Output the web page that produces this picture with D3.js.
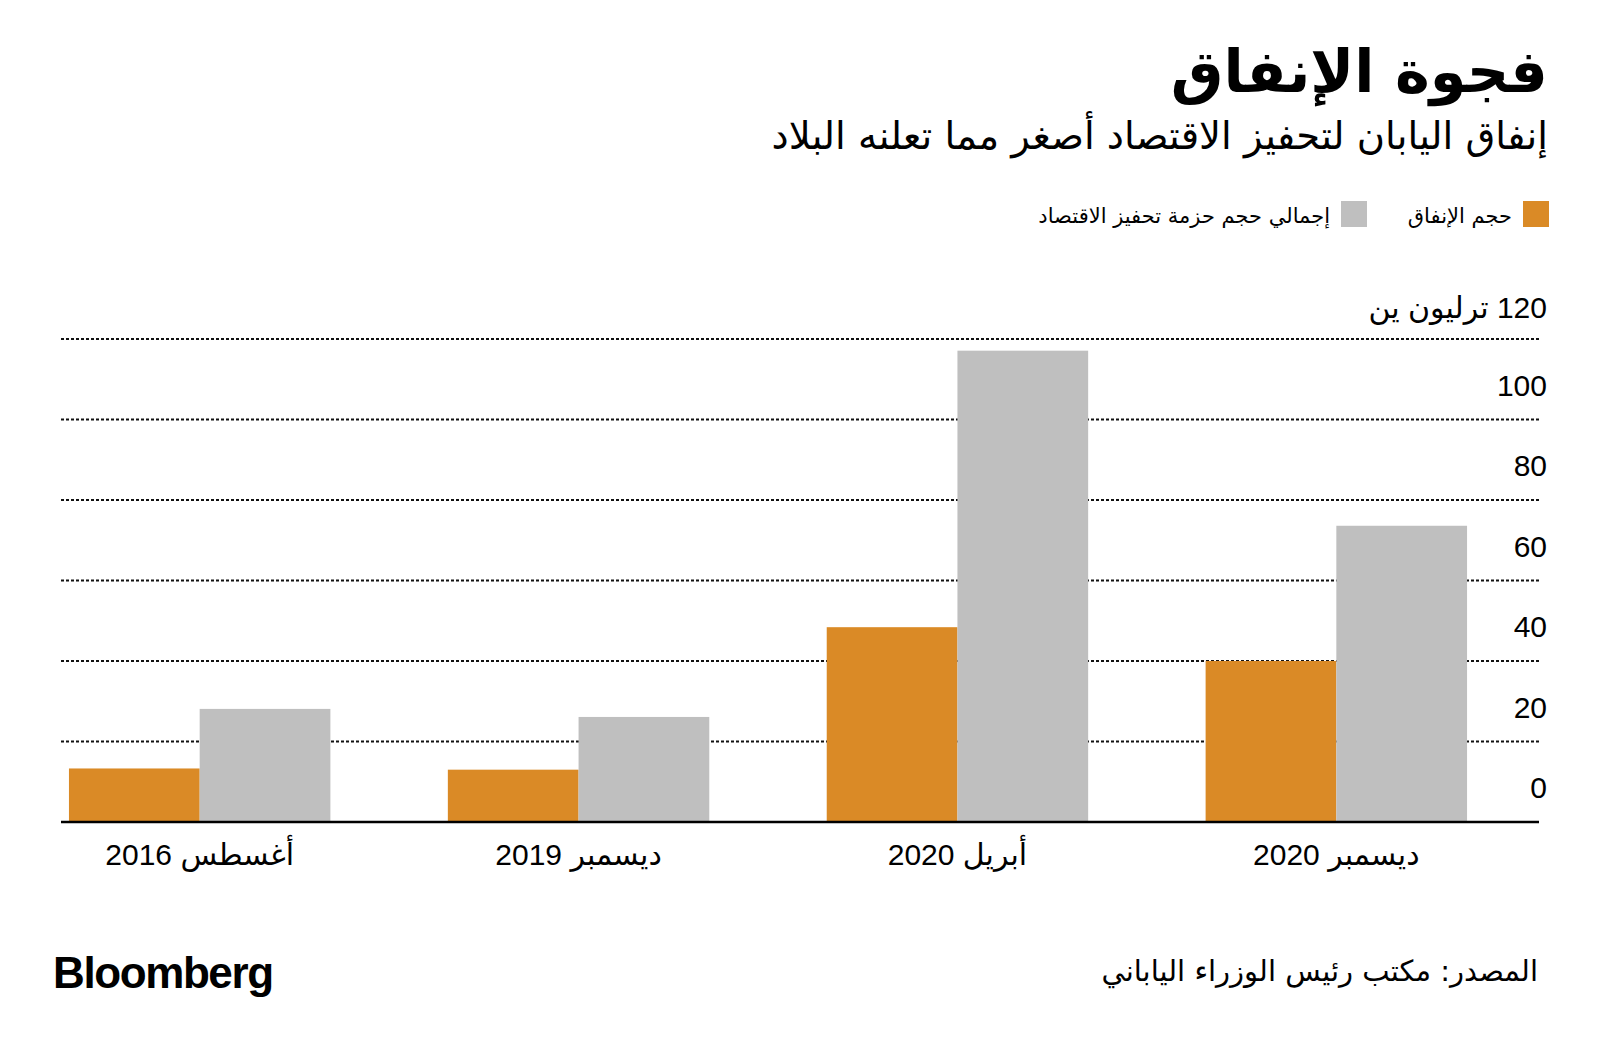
<!DOCTYPE html>
<html><head><meta charset="utf-8">
<script src="https://cdn.jsdelivr.net/npm/d3@7"></script>
<style>
html,body{margin:0;padding:0;background:#fff;}
text{font-family:"Liberation Sans","DejaVu Sans",sans-serif;fill:#000;}
.ar{font-family:"DejaVu Sans",sans-serif;}
</style></head>
<body>
<svg id="c" width="1600" height="1054"></svg>
<script>
const categories = ["أغسطس 2016", "ديسمبر 2019", "أبريل 2020", "ديسمبر 2020"];
const spending = [13.3, 13.0, 48.4, 40.0];
const totalPackage = [28.1, 26.1, 117.1, 73.6];
const yTicks = [0, 20, 40, 60, 80, 100, 120];
const seriesNames = ["حجم الإنفاق", "إجمالي حجم حزمة تحفيز الاقتصاد"];
const seriesColors = ["#DA8A26", "#BFBFBF"];
const title = "فجوة الإنفاق";
const subtitle = "إنفاق اليابان لتحفيز الاقتصاد أصغر مما تعلنه البلاد";
const unitLabel = "120 ترليون ين";
const source = "المصدر: مكتب رئيس الوزراء الياباني";

const RLM = "\u200F";
const svg = d3.select("#c");

const y = d3.scaleLinear().domain([0, 120]).range([822, 339]);
const x = d3.scaleBand().domain(categories).range([61, 1475]).paddingInner(0.31).paddingOuter(0.021);
const xs = d3.scaleBand().domain([0, 1]).range([0, x.bandwidth()]);

// title
svg.append("text").attr("class", "ar").attr("x", 1548).attr("y", 92)
  .attr("text-anchor", "end").attr("font-size", 59).attr("font-weight", "bold").text(RLM + title);
svg.append("text").attr("class", "ar").attr("x", 1548).attr("y", 149)
  .attr("text-anchor", "end").attr("font-size", 38.5).text(RLM + subtitle);

// legend
const leg = [{sx: 1523, tx: 1512}, {sx: 1341, tx: 1330}];
seriesNames.forEach((n, i) => {
  svg.append("rect").attr("x", leg[i].sx).attr("y", 201).attr("width", 26).attr("height", 26).attr("fill", seriesColors[i]);
  svg.append("text").attr("class", "ar").attr("x", leg[i].tx).attr("y", 223).attr("text-anchor", "end")
    .attr("font-size", 21).text(RLM + n);
});

// gridlines
svg.append("g").selectAll("line").data(yTicks.filter(d => d > 0)).join("line")
  .attr("x1", 61).attr("x2", 1539).attr("y1", d => y(d)).attr("y2", d => y(d))
  .attr("stroke", "#111").attr("stroke-width", 2).attr("stroke-dasharray", "3,2");

// tick labels
svg.append("g").selectAll("text").data(yTicks).join("text")
  .attr("x", 1547).attr("y", d => y(d) - (d === 120 ? 21 : 24)).attr("text-anchor", "end").attr("font-size", 30)
  .text(d => d === 120 ? RLM + unitLabel : d);

// bars
const g = svg.append("g");
categories.forEach((c, i) => {
  const vals = [spending[i], totalPackage[i]];
  g.selectAll(null).data(vals).join("rect")
    .attr("x", (d, j) => x(c) + xs(j)).attr("width", xs.bandwidth())
    .attr("y", d => y(d)).attr("height", d => y(0) - y(d))
    .attr("fill", (d, j) => seriesColors[j]);
});

// baseline
svg.append("line").attr("x1", 61).attr("x2", 1539).attr("y1", y(0)).attr("y2", y(0))
  .attr("stroke", "#000").attr("stroke-width", 2.5);

// x labels
svg.append("g").selectAll("text").data(categories).join("text")
  .attr("x", d => x(d) + x.bandwidth() / 2).attr("y", 865).attr("text-anchor", "middle")
  .attr("font-size", 30).text(d => RLM + d);

// footer
svg.append("text").attr("x", 53).attr("y", 988).attr("font-size", 44).attr("font-weight", "bold")
  .attr("letter-spacing", -1.4).text("Bloomberg");
svg.append("text").attr("class", "ar").attr("x", 1538).attr("y", 981).attr("text-anchor", "end")
  .attr("font-size", 29).text(RLM + source);
</script>
</body></html>
